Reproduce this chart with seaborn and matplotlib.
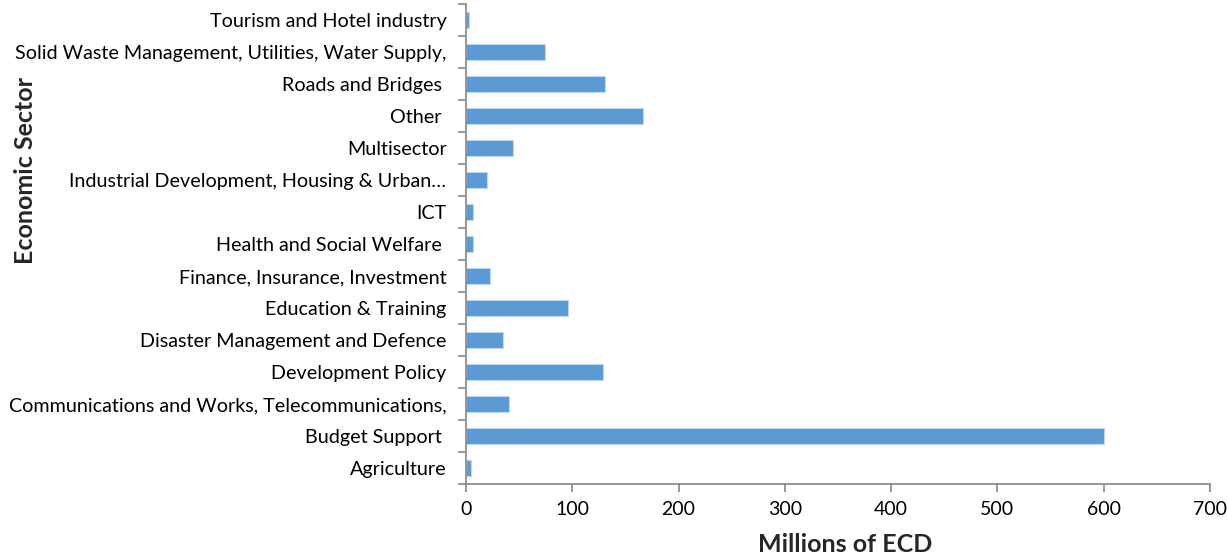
import numpy as np
import pandas as pd
import matplotlib
matplotlib.use("Agg")
import matplotlib.pyplot as plt
import seaborn as sns

sectors = [
    "Tourism and Hotel industry",
    "Solid Waste Management, Utilities, Water Supply,",
    "Roads and Bridges ",
    "Other ",
    "Multisector",
    "Industrial Development, Housing & Urban\u2026",
    "ICT",
    "Health and Social Welfare ",
    "Finance, Insurance, Investment",
    "Education & Training",
    "Disaster Management and Defence",
    "Development Policy",
    "Communications and Works, Telecommunications,",
    "Budget Support ",
    "Agriculture",
]
values = [3, 74, 131, 167, 44, 20, 7, 7, 23, 96, 34.5, 129, 40, 600, 5]
x_ticks = [0, 100, 200, 300, 400, 500, 600, 700]

df = pd.DataFrame({"sector": sectors, "value": values})

sns.set_theme(style="white")
plt.rcParams["font.family"] = ["Lato", "DejaVu Sans"]

fig = plt.figure(figsize=(12.29, 5.57), dpi=100)
ax = fig.add_axes([466 / 1229, 1 - 484 / 557, 744 / 1229, 480 / 557])

sns.barplot(data=df, x="value", y="sector", order=sectors, orient="h",
            color="#5B9BD5", saturation=1, width=0.5,
            edgecolor="#BDD7EE", linewidth=0.8, ax=ax)

ax.set_xlim(0, 700)
ax.set_ylim(len(sectors) - 0.5, -0.5)
ax.set_xticks(x_ticks)
ax.set_xticklabels([str(t) for t in x_ticks], fontsize=14, color="#000000")
ax.tick_params(axis="y", which="major", length=0, pad=14, labelsize=14.2, labelcolor="#000000")
ax.set_yticks(np.arange(-0.5, len(sectors), 1), minor=True)
ax.tick_params(axis="y", which="minor", length=6, width=1.2, color="#868686", left=True)
ax.tick_params(axis="x", which="major", length=6, width=1.2, color="#868686", bottom=True, pad=6)

for side in ["top", "right"]:
    ax.spines[side].set_visible(False)
for side in ["left", "bottom"]:
    ax.spines[side].set_color("#868686")
    ax.spines[side].set_linewidth(1.2)

ax.set_xlabel("")
ax.set_ylabel("")
fig.text(845 / 1229, 1 - 545 / 557, "Millions of ECD", ha="center", va="center",
         fontsize=18, fontweight="bold")
fig.text(26 / 1229, 1 - 170 / 557, "Economic Sector", ha="center", va="center",
         rotation=90, fontsize=18, fontweight="bold")

fig.savefig("out.png", dpi=100, facecolor="white")
